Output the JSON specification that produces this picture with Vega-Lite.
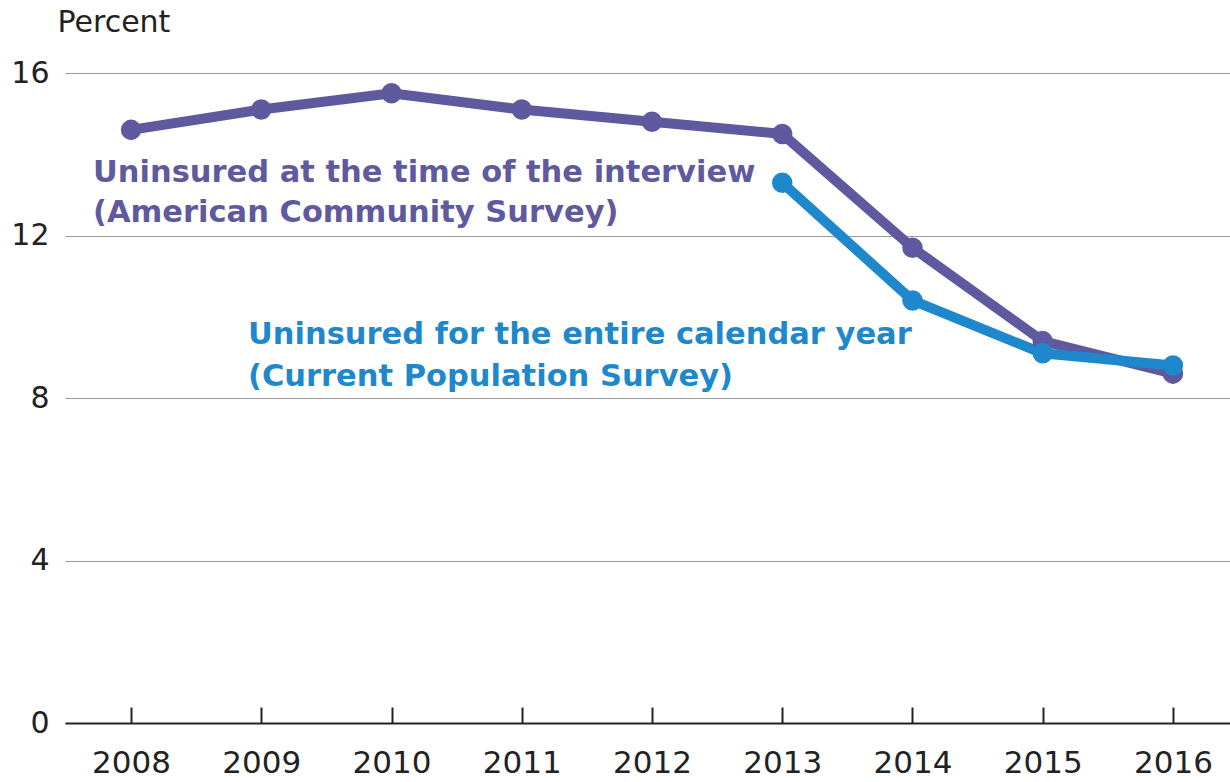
{
  "$schema": "https://vega.github.io/schema/vega-lite/v6.json",
  "width": 1165,
  "height": 650,
  "autosize": {"type": "none"},
  "padding": {"left": 65, "top": 73, "right": 0, "bottom": 59},
  "background": "white",
  "config": {"view": {"stroke": null}, "font": "DejaVu Sans"},
  "datasets": {
    "series": [
      {"year": 2008, "value": 14.6, "series": "ACS"},
      {"year": 2009, "value": 15.1, "series": "ACS"},
      {"year": 2010, "value": 15.5, "series": "ACS"},
      {"year": 2011, "value": 15.1, "series": "ACS"},
      {"year": 2012, "value": 14.8, "series": "ACS"},
      {"year": 2013, "value": 14.5, "series": "ACS"},
      {"year": 2014, "value": 11.7, "series": "ACS"},
      {"year": 2015, "value": 9.4, "series": "ACS"},
      {"year": 2016, "value": 8.6, "series": "ACS"},
      {"year": 2013, "value": 13.3, "series": "CPS"},
      {"year": 2014, "value": 10.4, "series": "CPS"},
      {"year": 2015, "value": 9.1, "series": "CPS"},
      {"year": 2016, "value": 8.8, "series": "CPS"}
    ],
    "labels": [
      {"x": 2007.708, "y": 13.55, "text": "Uninsured at the time of the interview", "series": "ACS"},
      {"x": 2007.708, "y": 12.55, "text": "(American Community Survey)", "series": "ACS"},
      {"x": 2008.898, "y": 9.55, "text": "Uninsured for the entire calendar year", "series": "CPS"},
      {"x": 2008.898, "y": 8.52, "text": "(Current Population Survey)", "series": "CPS"}
    ]
  },
  "layer": [
    {
      "data": {"name": "series"},
      "mark": {"type": "line", "strokeWidth": 10, "point": {"size": 420, "filled": true, "opacity": 1}},
      "encoding": {
        "x": {
          "field": "year", "type": "quantitative",
          "scale": {"domain": [2007.493, 2016.438], "nice": false, "zero": false},
          "axis": {
            "values": [2008, 2009, 2010, 2011, 2012, 2013, 2014, 2015, 2016],
            "format": "d", "title": null, "grid": false,
            "domainColor": "#222222", "domainWidth": 2,
            "tickColor": "#222222", "tickWidth": 2, "tickSize": -16,
            "labelFontSize": 31, "labelColor": "#222222", "labelPadding": 41,
            "labelFont": "DejaVu Sans"
          }
        },
        "y": {
          "field": "value", "type": "quantitative",
          "scale": {"domain": [0, 16], "nice": false},
          "axis": {
            "values": [0, 4, 8, 12, 16],
            "title": "Percent", "titleAngle": 0, "titleAlign": "left", "titleBaseline": "middle",
            "titleX": -8, "titleY": -51, "titleFontSize": 30, "titleFontWeight": "normal", "titleColor": "#222222", "titleFont": "DejaVu Sans",
            "domain": false, "ticks": false,
            "gridColor": "#999999", "gridWidth": 1.2,
            "labelFontSize": 30, "labelColor": "#222222", "labelPadding": 16, "labelFont": "DejaVu Sans"
          }
        },
        "color": {
          "field": "series", "type": "nominal",
          "scale": {"domain": ["ACS", "CPS"], "range": ["#5f5a9f", "#1f88cc"]},
          "legend": null
        }
      }
    },
    {
      "data": {"name": "labels"},
      "mark": {"type": "text", "align": "left", "baseline": "middle", "fontSize": 30.5, "fontWeight": "bold", "font": "DejaVu Sans"},
      "encoding": {
        "x": {"field": "x", "type": "quantitative"},
        "y": {"field": "y", "type": "quantitative"},
        "text": {"field": "text"},
        "color": {"field": "series", "type": "nominal", "legend": null}
      }
    }
  ]
}
